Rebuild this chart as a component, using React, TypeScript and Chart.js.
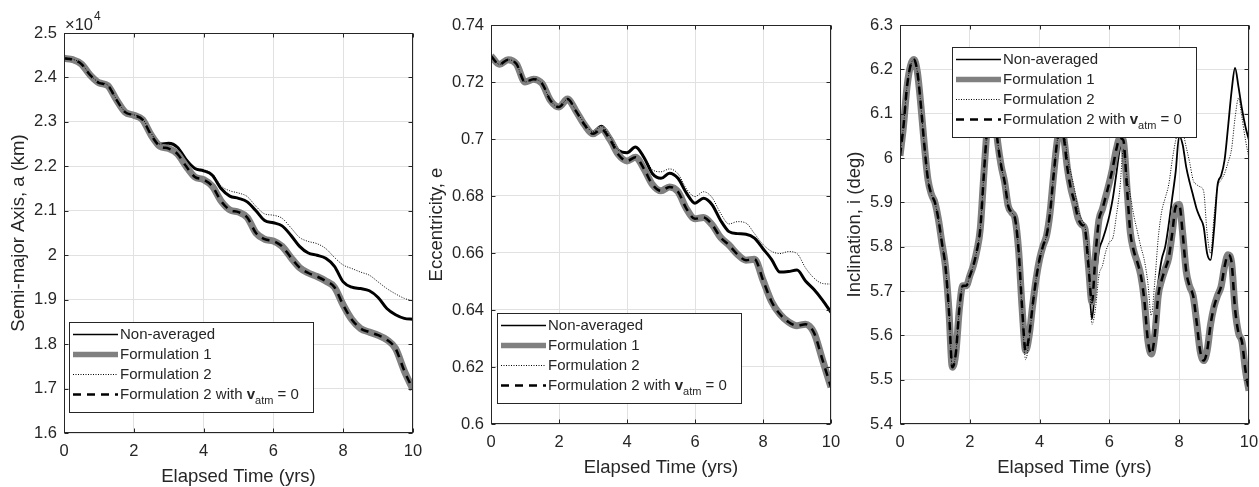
import React, { useEffect, useRef } from "react";
import { Chart, registerables } from "chart.js";

Chart.register(...registerables);

// ---------------- DATA ----------------
const timeCoarse = [0, 0.25, 0.5, 0.75, 1, 1.25, 1.5, 1.75, 2, 2.25, 2.5, 2.75, 3, 3.25, 3.5, 3.75, 4, 4.25, 4.5, 4.75, 5, 5.25, 5.5, 5.75, 6, 6.25, 6.5, 6.75, 7, 7.25, 7.5, 7.75, 8, 8.25, 8.5, 8.75, 9, 9.25, 9.5, 9.75, 10];

const timeFine = [0, 0.1, 0.2, 0.3, 0.4, 0.5, 0.6, 0.7, 0.8, 0.9, 1, 1.1, 1.2, 1.3, 1.4, 1.5, 1.6, 1.7, 1.8, 1.9, 2, 2.1, 2.2, 2.3, 2.4, 2.5, 2.6, 2.7, 2.8, 2.9, 3, 3.1, 3.2, 3.3, 3.4, 3.5, 3.6, 3.7, 3.8, 3.9, 4, 4.1, 4.2, 4.3, 4.4, 4.5, 4.6, 4.7, 4.8, 4.9, 5, 5.1, 5.2, 5.3, 5.4, 5.5, 5.6, 5.7, 5.8, 5.9, 6, 6.1, 6.2, 6.3, 6.4, 6.5, 6.6, 6.7, 6.8, 6.9, 7, 7.1, 7.2, 7.3, 7.4, 7.5, 7.6, 7.7, 7.8, 7.9, 8, 8.1, 8.2, 8.3, 8.4, 8.5, 8.6, 8.7, 8.8, 8.9, 9, 9.1, 9.2, 9.3, 9.4, 9.5, 9.6, 9.7, 9.8, 9.9, 10];

const seriesLabels = ["Non-averaged", "Formulation 1", "Formulation 2", "Formulation 2 with v_atm = 0"];

// Semi-major axis (km)
const semiNonAvg = [24450, 24410, 24310, 24060, 23890, 23830, 23510, 23230, 23160, 23070, 22740, 22500, 22520, 22430, 22150, 21950, 21900, 21800, 21500, 21330, 21280, 21200, 21000, 20780, 20730, 20660, 20450, 20200, 20050, 20000, 19930, 19750, 19400, 19280, 19250, 19200, 19050, 18800, 18660, 18580, 18560];
const semiForm1 = [24430, 24400, 24300, 24050, 23880, 23820, 23500, 23220, 23150, 23050, 22700, 22450, 22400, 22280, 22000, 21760, 21700, 21550, 21220, 21020, 20970, 20850, 20500, 20360, 20320, 20200, 19950, 19720, 19600, 19520, 19420, 19280, 18880, 18550, 18350, 18270, 18200, 18100, 17900, 17400, 16980];
const semiForm2 = [24450, 24410, 24310, 24060, 23890, 23830, 23510, 23230, 23160, 23070, 22740, 22500, 22530, 22440, 22160, 21960, 21920, 21830, 21560, 21450, 21400, 21320, 21100, 20930, 20900, 20830, 20620, 20400, 20310, 20260, 20150, 19950, 19780, 19700, 19620, 19550, 19400, 19250, 19130, 19030, 18970];
const semiForm2v0 = [24430, 24400, 24300, 24050, 23880, 23820, 23500, 23220, 23150, 23050, 22700, 22450, 22400, 22280, 22000, 21760, 21700, 21550, 21220, 21020, 20970, 20850, 20500, 20360, 20320, 20200, 19950, 19720, 19600, 19520, 19420, 19280, 18880, 18550, 18350, 18270, 18200, 18100, 17900, 17400, 16980];

// Eccentricity
const eccNonAvg = [0.7291, 0.7262, 0.7278, 0.7263, 0.7200, 0.7210, 0.7195, 0.7135, 0.7112, 0.7140, 0.7100, 0.7055, 0.7025, 0.7045, 0.7008, 0.6960, 0.6952, 0.6972, 0.6935, 0.6878, 0.6862, 0.6880, 0.6862, 0.6810, 0.6775, 0.6792, 0.6770, 0.6715, 0.6675, 0.6668, 0.6666, 0.6652, 0.6615, 0.6578, 0.6533, 0.6535, 0.6540, 0.6502, 0.6472, 0.6435, 0.6392];
const eccForm1 = [0.7291, 0.7262, 0.7278, 0.7263, 0.7200, 0.7210, 0.7195, 0.7135, 0.7112, 0.7140, 0.7098, 0.7050, 0.7018, 0.7034, 0.6998, 0.6945, 0.6923, 0.6936, 0.6895, 0.6840, 0.6818, 0.6832, 0.6815, 0.6755, 0.6720, 0.6725, 0.6700, 0.6655, 0.6628, 0.6595, 0.6575, 0.6578, 0.6505, 0.6430, 0.6385, 0.6358, 0.6345, 0.6350, 0.6320, 0.6225, 0.6129];
const eccForm2 = [0.7291, 0.7262, 0.7278, 0.7263, 0.7200, 0.7210, 0.7195, 0.7135, 0.7112, 0.7140, 0.7100, 0.7055, 0.7025, 0.7045, 0.7008, 0.6960, 0.6952, 0.6972, 0.6940, 0.6892, 0.6885, 0.6895, 0.6878, 0.6825, 0.6798, 0.6815, 0.6795, 0.6740, 0.6702, 0.6710, 0.6705, 0.6668, 0.6630, 0.6606, 0.6598, 0.6605, 0.6598, 0.6548, 0.6512, 0.6493, 0.6491];
const eccForm2v0 = [0.7291, 0.7262, 0.7278, 0.7263, 0.7200, 0.7210, 0.7195, 0.7135, 0.7112, 0.7140, 0.7098, 0.7050, 0.7018, 0.7034, 0.6998, 0.6945, 0.6923, 0.6936, 0.6895, 0.6840, 0.6818, 0.6832, 0.6815, 0.6755, 0.6720, 0.6725, 0.6700, 0.6655, 0.6628, 0.6595, 0.6575, 0.6578, 0.6505, 0.6430, 0.6385, 0.6358, 0.6345, 0.6350, 0.6320, 0.6225, 0.6129];

// Inclination (deg)
const incNonAvg = [
  6.005, 6.072, 6.160, 6.208, 6.222, 6.193, 6.117, 6.027, 5.952, 5.918,
  5.900, 5.862, 5.809, 5.757, 5.659, 5.528, 5.560, 5.659, 5.712, 5.712,
  5.734, 5.757, 5.790, 5.840, 5.960, 6.070, 6.140, 6.110, 6.035, 5.982,
  5.945, 5.892, 5.877, 5.862, 5.790, 5.660, 5.565, 5.599, 5.667, 5.727,
  5.772, 5.802, 5.825, 5.877, 5.960, 6.035, 6.075, 6.042, 5.975, 5.930,
  5.900, 5.865, 5.850, 5.840, 5.740, 5.637, 5.720, 5.790, 5.815, 5.840,
  5.870, 5.910, 5.965, 6.020, 6.035, 5.937, 5.832, 5.790, 5.765, 5.735,
  5.685, 5.600, 5.590, 5.640, 5.720, 5.772, 5.800, 5.850, 5.910, 5.970,
  6.050, 6.030, 5.980, 5.945, 5.915, 5.885, 5.865, 5.845, 5.785, 5.770,
  5.840, 5.940, 5.960, 5.995, 6.070, 6.150, 6.203, 6.160, 6.110, 6.070,
  6.040];
const incForm1 = [
  6.005, 6.072, 6.160, 6.208, 6.222, 6.193, 6.117, 6.027, 5.952, 5.918,
  5.900, 5.862, 5.809, 5.757, 5.659, 5.528, 5.560, 5.659, 5.712, 5.712,
  5.734, 5.757, 5.790, 5.840, 5.960, 6.070, 6.140, 6.110, 6.035, 5.982,
  5.945, 5.892, 5.877, 5.862, 5.790, 5.660, 5.565, 5.599, 5.667, 5.727,
  5.772, 5.802, 5.825, 5.877, 5.960, 6.035, 6.075, 6.042, 5.975, 5.930,
  5.900, 5.865, 5.850, 5.840, 5.757, 5.675, 5.780, 5.860, 5.885, 5.915,
  5.945, 5.980, 6.020, 6.045, 6.040, 5.937, 5.832, 5.790, 5.765, 5.735,
  5.680, 5.590, 5.558, 5.600, 5.690, 5.725, 5.750, 5.775, 5.830, 5.890,
  5.895, 5.830, 5.745, 5.710, 5.689, 5.630, 5.565, 5.543, 5.565, 5.625,
  5.665, 5.690, 5.710, 5.755, 5.782, 5.765, 5.660, 5.605, 5.585, 5.520,
  5.475];
const incForm2 = [
  6.005, 6.072, 6.160, 6.208, 6.222, 6.193, 6.117, 6.027, 5.952, 5.918,
  5.900, 5.862, 5.809, 5.757, 5.659, 5.528, 5.560, 5.659, 5.712, 5.712,
  5.734, 5.757, 5.790, 5.840, 5.960, 6.070, 6.140, 6.110, 6.035, 5.982,
  5.945, 5.892, 5.877, 5.862, 5.790, 5.650, 5.545, 5.590, 5.667, 5.727,
  5.772, 5.802, 5.825, 5.877, 5.960, 6.035, 6.075, 6.060, 6.000, 5.965,
  5.930, 5.885, 5.862, 5.845, 5.780, 5.625, 5.660, 5.735, 5.757, 5.790,
  5.810, 5.820, 5.870, 5.930, 6.020, 5.960, 5.915, 5.870, 5.835, 5.800,
  5.770, 5.720, 5.645, 5.720, 5.820, 5.880, 5.910, 5.940, 5.995, 6.040,
  6.070, 6.060, 6.025, 5.990, 5.950, 5.940, 5.935, 5.925, 5.830, 5.785,
  5.870, 5.935, 5.950, 5.965, 5.990, 6.020, 6.090, 6.135, 6.090, 6.040,
  6.000];
const incForm2v0 = [
  6.005, 6.072, 6.160, 6.208, 6.222, 6.193, 6.117, 6.027, 5.952, 5.918,
  5.900, 5.862, 5.809, 5.757, 5.659, 5.528, 5.560, 5.659, 5.712, 5.712,
  5.734, 5.757, 5.790, 5.840, 5.960, 6.070, 6.140, 6.110, 6.035, 5.982,
  5.945, 5.892, 5.877, 5.862, 5.790, 5.660, 5.565, 5.599, 5.667, 5.727,
  5.772, 5.802, 5.825, 5.877, 5.960, 6.035, 6.075, 6.042, 5.975, 5.930,
  5.900, 5.865, 5.850, 5.840, 5.757, 5.675, 5.780, 5.860, 5.885, 5.915,
  5.945, 5.980, 6.020, 6.045, 6.040, 5.937, 5.832, 5.790, 5.765, 5.735,
  5.680, 5.590, 5.558, 5.600, 5.690, 5.725, 5.750, 5.775, 5.830, 5.890,
  5.895, 5.830, 5.745, 5.710, 5.689, 5.630, 5.565, 5.543, 5.565, 5.625,
  5.665, 5.690, 5.710, 5.755, 5.782, 5.765, 5.660, 5.605, 5.585, 5.520,
  5.475];

// Ticks
const timeTicks = [0, 2, 4, 6, 8, 10];
const timeTickLabels = ["0", "2", "4", "6", "8", "10"];
const semiTicks = [16000, 17000, 18000, 19000, 20000, 21000, 22000, 23000, 24000, 25000];
const semiTickLabels = ["1.6", "1.7", "1.8", "1.9", "2", "2.1", "2.2", "2.3", "2.4", "2.5"];
const eccTicks = [0.6, 0.62, 0.64, 0.66, 0.68, 0.7, 0.72, 0.74];
const eccTickLabels = ["0.6", "0.62", "0.64", "0.66", "0.68", "0.7", "0.72", "0.74"];
const incTicks = [5.4, 5.5, 5.6, 5.7, 5.8, 5.9, 6.0, 6.1, 6.2, 6.3];
const incTickLabels = ["5.4", "5.5", "5.6", "5.7", "5.8", "5.9", "6", "6.1", "6.2", "6.3"];

// ---------------- STYLE ----------------
const FONT = '"Liberation Sans", Arial, Helvetica, sans-serif';
const AXIS = "#262626";
const GRID = "#e1e1e1";
const H = 487;

const legendRowOffsets = [12.5, 32.5, 52.5, 72.5];
const legendSampleWidths = [1.5, 5.5, 1, 2.5];

const matlabFrame = {
  id: "matlabFrame",
  afterDatasetsDraw(chart: any, _args: any, opts: any) {
    const { ctx, chartArea } = chart;
    const xs = chart.scales.x;
    const ys = chart.scales.y;
    const L = Math.round(chartArea.left) + 0.5;
    const R = Math.round(chartArea.right) - 0.5;
    const T = Math.round(chartArea.top) + 0.5;
    const B = Math.round(chartArea.bottom) - 0.5;
    ctx.save();
    ctx.lineWidth = 1;
    ctx.strokeStyle = AXIS;
    ctx.setLineDash([]);
    const tl = 4;
    ctx.beginPath();
    xs.ticks.forEach((t: any) => {
      const px = Math.round(xs.getPixelForValue(t.value)) + 0.5;
      ctx.moveTo(px, B); ctx.lineTo(px, B - tl);
      ctx.moveTo(px, T); ctx.lineTo(px, T + tl);
    });
    ys.ticks.forEach((t: any) => {
      const py = Math.round(ys.getPixelForValue(t.value)) + 0.5;
      ctx.moveTo(L, py); ctx.lineTo(L + tl, py);
      ctx.moveTo(R, py); ctx.lineTo(R - tl, py);
    });
    ctx.stroke();
    ctx.strokeRect(L, T, R - L, B - T);

    // exponent label
    if (opts.exponent) {
      ctx.fillStyle = AXIS;
      ctx.textBaseline = "middle";
      ctx.textAlign = "left";
      ctx.font = `16.5px ${FONT}`;
      const base = "\u00d710";
      ctx.fillText(base, opts.exponent.x, opts.exponent.y);
      const w = ctx.measureText(base).width;
      ctx.font = `12px ${FONT}`;
      ctx.fillText("4", opts.exponent.x + w + 1, opts.exponent.y - 8);
    }

    // legend
    const lg = opts.legend;
    ctx.fillStyle = "#ffffff";
    ctx.fillRect(lg.x, lg.y, lg.w, lg.h);
    ctx.strokeStyle = AXIS;
    ctx.lineWidth = 1;
    ctx.strokeRect(lg.x + 0.5, lg.y + 0.5, lg.w, lg.h);
    chart.data.datasets.forEach((ds: any, i: number) => {
      const yy = lg.y + legendRowOffsets[i];
      ctx.save();
      ctx.strokeStyle = ds.borderColor;
      ctx.lineWidth = legendSampleWidths[i];
      ctx.setLineDash(ds.borderDash || []);
      ctx.lineCap = "butt";
      ctx.beginPath();
      ctx.moveTo(lg.x + 4, yy);
      ctx.lineTo(lg.x + 49, yy);
      ctx.stroke();
      ctx.restore();
      ctx.fillStyle = AXIS;
      ctx.textBaseline = "middle";
      ctx.textAlign = "left";
      let tx = lg.x + 51;
      if (i < 3) {
        ctx.font = `15px ${FONT}`;
        ctx.fillText(seriesLabels[i], tx, yy);
      } else {
        const part1 = "Formulation 2 with ";
        ctx.font = `15px ${FONT}`;
        ctx.fillText(part1, tx, yy);
        tx += ctx.measureText(part1).width;
        ctx.font = `bold 15px ${FONT}`;
        ctx.fillText("v", tx, yy);
        tx += ctx.measureText("v").width;
        ctx.font = `11px ${FONT}`;
        ctx.fillText("atm", tx, yy + 6);
        tx += ctx.measureText("atm").width;
        ctx.font = `15px ${FONT}`;
        ctx.fillText(" = 0", tx, yy);
      }
    });
    ctx.restore();
  },
};

type PanelCfg = {
  left: number; width: number; yWidth: number; padTop: number; padRight: number;
  xHeight: number; xTitlePad: number; yTitlePad: number;
  time: number[]; series: number[][]; yMin: number; yMax: number;
  yTicks: number[]; yLabels: string[]; yTitle: string; naWidth: number;
  legend: { x: number; y: number; w: number; h: number };
  exponent?: { x: number; y: number };
};

const panels: PanelCfg[] = [
  {
    left: 0, width: 430, yWidth: 64, padTop: 33, padRight: 17, xHeight: 54, xTitlePad: 0.75, yTitlePad: 9.75,
    time: timeCoarse, series: [semiNonAvg, semiForm1, semiForm2, semiForm2v0],
    yMin: 16000, yMax: 25000, yTicks: semiTicks, yLabels: semiTickLabels,
    yTitle: "Semi-major Axis, a (km)", naWidth: 3,
    legend: { x: 69, y: 322, w: 244, h: 90 }, exponent: { x: 65, y: 25 },
  },
  {
    left: 420, width: 425, yWidth: 71, padTop: 25, padRight: 14, xHeight: 63, xTitlePad: 9.75, yTitlePad: 7.75,
    time: timeCoarse, series: [eccNonAvg, eccForm1, eccForm2, eccForm2v0],
    yMin: 0.6, yMax: 0.74, yTicks: eccTicks, yLabels: eccTickLabels,
    yTitle: "Eccentricity, e", naWidth: 3,
    legend: { x: 77, y: 313, w: 244, h: 90 },
  },
  {
    left: 835, width: 424, yWidth: 65, padTop: 25, padRight: 10, xHeight: 63, xTitlePad: 9.75, yTitlePad: 10.75,
    time: timeFine, series: [incNonAvg, incForm1, incForm2, incForm2v0],
    yMin: 5.4, yMax: 6.3, yTicks: incTicks, yLabels: incTickLabels,
    yTitle: "Inclination, i (deg)", naWidth: 1.8,
    legend: { x: 117, y: 47, w: 244, h: 90 },
  },
];

function toPoints(t: number[], v: number[]) {
  return t.map((x, i) => ({ x, y: v[i] }));
}

function makeConfig(p: PanelCfg): any {
  const tickFont = { family: FONT, size: 16.5 };
  const titleFont = { family: FONT, size: 18.5, lineHeight: 1 };
  return {
    type: "line",
    data: {
      datasets: [
        { label: seriesLabels[0], data: toPoints(p.time, p.series[0]), borderColor: "#000000", borderWidth: p.naWidth, order: 4 },
        { label: seriesLabels[1], data: toPoints(p.time, p.series[1]), borderColor: "#808080", borderWidth: 7, order: 3 },
        { label: seriesLabels[2], data: toPoints(p.time, p.series[2]), borderColor: "#000000", borderWidth: 1, borderDash: [1, 1.5], order: 2 },
        { label: seriesLabels[3], data: toPoints(p.time, p.series[3]), borderColor: "#000000", borderWidth: 2.5, borderDash: [8, 6], order: 1 },
      ],
    },
    options: {
      responsive: false,
      animation: false,
      devicePixelRatio: 1,
      elements: {
        point: { radius: 0, hoverRadius: 0 },
        line: { cubicInterpolationMode: "monotone", fill: false, borderCapStyle: "butt", borderJoinStyle: "round" },
      },
      layout: { padding: { left: 0, top: p.padTop, right: p.padRight, bottom: 0 } },
      plugins: {
        legend: { display: false },
        tooltip: { enabled: false },
        matlabFrame: { legend: p.legend, exponent: p.exponent },
      },
      scales: {
        x: {
          type: "linear", position: "bottom", min: 0, max: 10,
          afterBuildTicks: (s: any) => { s.ticks = timeTicks.map((v) => ({ value: v })); },
          afterFit: (s: any) => { s.height = p.xHeight; s.paddingLeft = 0; s.paddingRight = 0; s.paddingTop = 0; s.paddingBottom = 0; },
          ticks: { callback: (_v: any, i: number) => timeTickLabels[i], font: tickFont, color: AXIS, padding: 9, maxRotation: 0, autoSkip: false },
          grid: { color: GRID, drawTicks: false, lineWidth: 1 },
          border: { display: false },
          title: { display: true, text: "Elapsed Time (yrs)", font: titleFont, color: AXIS, padding: { top: 0, bottom: p.xTitlePad } },
        },
        y: {
          type: "linear", position: "left", min: p.yMin, max: p.yMax,
          afterBuildTicks: (s: any) => { s.ticks = p.yTicks.map((v) => ({ value: v })); },
          afterFit: (s: any) => { s.width = p.yWidth; s.paddingLeft = 0; s.paddingRight = 0; s.paddingTop = 0; s.paddingBottom = 0; },
          ticks: { callback: (_v: any, i: number) => p.yLabels[i], font: tickFont, color: AXIS, padding: 7, autoSkip: false },
          grid: { color: GRID, drawTicks: false, lineWidth: 1 },
          border: { display: false },
          title: { display: true, text: p.yTitle, font: titleFont, color: AXIS, padding: { top: p.yTitlePad, bottom: 0 } },
        },
      },
    },
    plugins: [matlabFrame],
  };
}

export default function App() {
  const refs = [useRef<HTMLCanvasElement>(null), useRef<HTMLCanvasElement>(null), useRef<HTMLCanvasElement>(null)];
  useEffect(() => {
    const charts = panels.map((p, i) => new Chart(refs[i].current as HTMLCanvasElement, makeConfig(p)));
    return () => charts.forEach((c) => c.destroy());
  }, []);
  return (
    <div style={{ position: "absolute", left: 0, top: 0, width: 1259, height: H, background: "#ffffff", overflow: "hidden" }}>
      {panels.map((p, i) => (
        <canvas
          key={i}
          ref={refs[i]}
          width={p.width}
          height={H}
          style={{ position: "absolute", left: p.left, top: 0, width: p.width, height: H }}
        />
      ))}
    </div>
  );
}
